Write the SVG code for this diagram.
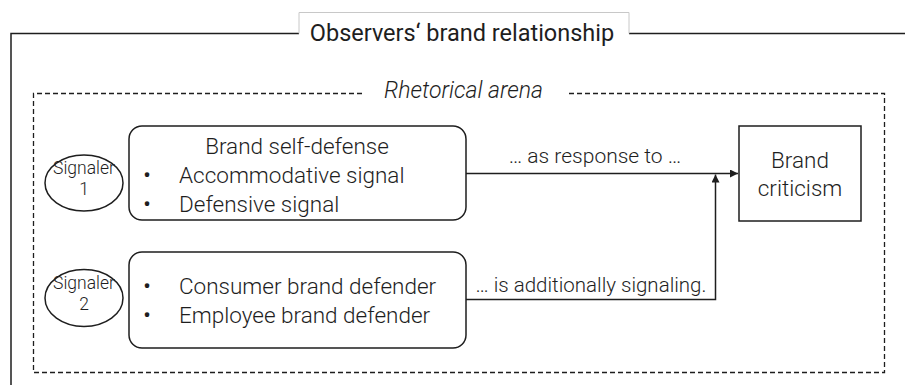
<svg xmlns="http://www.w3.org/2000/svg" width="905" height="385" viewBox="0 0 905 385">
<style>
  text { font-family: Roboto, "Liberation Sans", sans-serif; fill: #1e1e1e; }
  .lt { font-weight: 300; }
  .bul { font-weight: 400; font-size: 22.5px; text-anchor: middle; }
  .sig { font-weight: 300; font-size: 17.5px; text-anchor: middle; }
  .node { fill: #fff; stroke: #1e1e1e; stroke-width: 1.5; }
  .dash { fill: none; stroke: #1e1e1e; stroke-width: 1.3; stroke-dasharray: 5 3; }
  .conn { fill: none; stroke: #1e1e1e; stroke-width: 1.5; }
</style>
<defs>
  <marker id="arr" viewBox="0 0 10 10" refX="10" refY="5" markerWidth="8" markerHeight="8" markerUnits="userSpaceOnUse" orient="auto">
    <path d="M0,0 L10,5 L0,10 z" fill="#1e1e1e"/>
  </marker>
</defs>
<rect width="905" height="385" fill="#fff"/>

<g id="observers-frame">
  <path d="M11,385 V33.5 H905" fill="none" stroke="#1e1e1e" stroke-width="1.5"/>
  <rect x="299" y="12" width="330" height="40" fill="#fff"/>
  <path d="M299,33.5 V12.5 H629 V33.5" fill="none" stroke="#c8c8c8" stroke-width="1"/>
  <text x="462" y="41" font-size="23.5" text-anchor="middle">Observers‘ brand relationship</text>
</g>

<g id="rhetorical-arena">
  <path class="dash" d="M362,93.5 H33.5 V372.5 H884.5 V93.5 H567"/>
  <text class="lt" x="463.5" y="98" font-size="23" font-style="italic" text-anchor="middle">Rhetorical arena</text>
</g>

<g id="signaler1">
  <ellipse class="node" cx="84" cy="183" rx="39" ry="28"/>
  <text class="sig" x="84" y="174">Signaler</text>
  <text class="sig" x="84" y="195">1</text>
</g>

<g id="signaler2">
  <ellipse class="node" cx="84" cy="298" rx="39" ry="28.5"/>
  <text class="sig" x="84" y="289">Signaler</text>
  <text class="sig" x="84" y="310">2</text>
</g>

<g id="brand-self-defense">
  <rect class="node" x="129" y="126" width="337" height="94" rx="13"/>
  <text class="lt" x="297" y="154" font-size="22.5" text-anchor="middle">Brand self-defense</text>
  <text class="bul" x="147" y="183">•</text>
  <text class="lt" x="179" y="183" font-size="22.5">Accommodative signal</text>
  <text class="bul" x="147" y="212">•</text>
  <text class="lt" x="179" y="212" font-size="22.5">Defensive signal</text>
</g>

<g id="brand-defenders">
  <rect class="node" x="129" y="252" width="337" height="96" rx="13"/>
  <text class="bul" x="147" y="294">•</text>
  <text class="lt" x="179" y="294" font-size="22.5">Consumer brand defender</text>
  <text class="bul" x="147" y="323">•</text>
  <text class="lt" x="179" y="323" font-size="22.5">Employee brand defender</text>
</g>

<g id="brand-criticism">
  <rect class="node" x="739" y="126" width="122" height="95"/>
  <text class="lt" x="800" y="168" font-size="22.5" text-anchor="middle">Brand</text>
  <text class="lt" x="800" y="196" font-size="22.5" text-anchor="middle">criticism</text>
</g>

<g id="connectors">
  <path class="conn" d="M466,173.5 H738" marker-end="url(#arr)"/>
  <path class="conn" d="M466,299.5 H715.5 V174.5" marker-end="url(#arr)"/>
  <text class="lt" x="595" y="163" font-size="21" text-anchor="middle">… as response to …</text>
  <text class="lt" x="591" y="292" font-size="20.5" text-anchor="middle">… is additionally signaling.</text>
</g>
</svg>
